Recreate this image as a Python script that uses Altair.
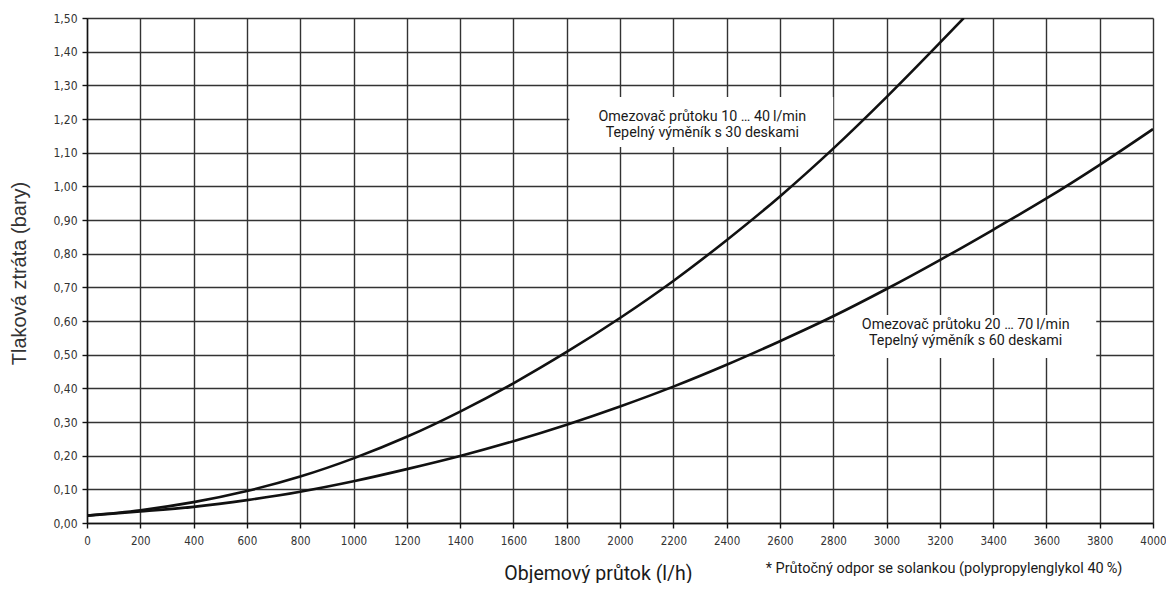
import altair as alt
import pandas as pd

# Flow (l/h) and pressure loss (bar)
flow_30 = [0, 200, 400, 600, 800, 1000, 1200, 1400, 1600, 1800, 2000, 2200, 2400, 2600, 2800, 3000, 3200, 3290]
loss_30 = [0.022, 0.038, 0.062, 0.095, 0.138, 0.192, 0.256, 0.331, 0.415, 0.508, 0.609, 0.719, 0.840, 0.970, 1.112, 1.265, 1.426, 1.50]

flow_60 = [0, 200, 400, 600, 800, 1000, 1200, 1400, 1600, 1800, 2000, 2200, 2400, 2600, 2800, 3000, 3200, 3400, 3600, 3800, 4000]
loss_60 = [0.022, 0.034, 0.048, 0.068, 0.093, 0.124, 0.160, 0.199, 0.243, 0.292, 0.346, 0.405, 0.470, 0.540, 0.614, 0.695, 0.781, 0.871, 0.964, 1.064, 1.170]

series_names = ["30 desek", "60 desek"]

label_lines_1 = ["Omezovač průtoku 10 … 40\u2009l/min", "Tepelný výměník s 30 deskami"]
label_lines_2 = ["Omezovač průtoku 20 … 70\u2009l/min", "Tepelný výměník s 60 deskami"]
footnote = "* Průtočný odpor se solankou (polypropylenglykol 40\u2009%)"

x_title = "Objemový průtok (l/h)"
y_title = "Tlaková ztráta (bary)"

x_ticks = list(range(0, 4001, 200))
y_ticks = [round(i * 0.1, 2) for i in range(0, 16)]

W, H = 1066, 505
PAD_L, PAD_R = 79, 13

df = pd.concat([
    pd.DataFrame({"flow": flow_30, "loss": loss_30, "series": series_names[0]}),
    pd.DataFrame({"flow": flow_60, "loss": loss_60, "series": series_names[1]}),
])

xs = alt.Scale(domain=[0, 4000], nice=False, zero=False)
ys = alt.Scale(domain=[0, 1.5], nice=False, zero=False)

label_font = "Liberation Sans Narrow, DejaVu Sans Condensed, Liberation Sans, sans-serif"

x_axis = alt.Axis(values=x_ticks, title=x_title, grid=True, gridColor="#333333", gridWidth=1.4,
                  gridOpacity=1, domainColor="#111111", domainWidth=1.4, tickColor="#111111",
                  tickSize=5, tickWidth=1.4, labelPadding=7, labelFont=label_font, labelFontSize=11.5,
                  labelColor="#333333", labelFlush=False, labelOverlap=False, format="d",
                  titleFont="Roboto", titleFontSize=19.5, titleFontWeight="normal",
                  titleColor="#1a1a1a", titleX=511, titleY=56, titleBaseline="alphabetic",
                  titleAlign="center")
y_axis = alt.Axis(values=y_ticks, title=y_title, grid=True, gridColor="#333333", gridWidth=1.4,
                  gridOpacity=1, domainColor="#111111", domainWidth=1.4, tickColor="#111111",
                  tickSize=5, tickWidth=1.4, labelPadding=5, labelFont=label_font, labelFontSize=12,
                  labelColor="#333333", labelFlush=False, labelOverlap=False,
                  labelExpr="replace(format(datum.value, '.2f'), '.', ',')",
                  titleFont="Liberation Sans", titleFontSize=20, titleFontWeight="normal",
                  titleColor="#333333", titleX=-68, titleY=255, titleAngle=270,
                  titleBaseline="middle", titleAlign="center")

boxes = pd.DataFrame({
    "flow": [1810, 2806], "flow2": [2800, 3787],
    "loss": [1.117, 0.49], "loss2": [1.265, 0.618],
})
box_layer = alt.Chart(boxes).mark_rect(color="white").encode(
    x=alt.X("flow:Q", scale=xs, axis=x_axis), x2="flow2",
    y=alt.Y("loss:Q", scale=ys, axis=y_axis), y2="loss2"
)

lines = alt.Chart(df).mark_line(color="#111111", strokeWidth=2.6, interpolate="monotone", clip=True).encode(
    x=alt.X("flow:Q", scale=xs, axis=x_axis),
    y=alt.Y("loss:Q", scale=ys, axis=y_axis),
    detail="series:N",
)

labels = pd.DataFrame({
    "flow": [2309, 2309, 3297, 3297],
    "loss": [1.207, 1.157, 0.588, 0.540],
    "text": label_lines_1 + label_lines_2,
})
text_layer = alt.Chart(labels).mark_text(font="Roboto", fontSize=14.3, color="#1a1a1a",
                                          align="center", baseline="middle").encode(
    x=alt.X("flow:Q", scale=xs, axis=x_axis), y=alt.Y("loss:Q", scale=ys, axis=y_axis), text="text:N"
)

foot = alt.Chart(pd.DataFrame({"text": [footnote]})).mark_text(
    font="Roboto", fontSize=14.5, color="#1a1a1a", align="center", baseline="middle"
).encode(x=alt.value(857), y=alt.value(551), text="text:N")

chart = alt.layer(box_layer, lines, text_layer, foot).properties(
    width=W, height=H,
    autosize=alt.AutoSizeParams(type="none"),
    padding={"left": PAD_L, "top": 10, "right": PAD_R, "bottom": 60},
).configure_view(stroke="#333333", strokeWidth=1.4).configure(background="white")

chart.save("out.html", embed_options={"renderer": "svg", "actions": False})
